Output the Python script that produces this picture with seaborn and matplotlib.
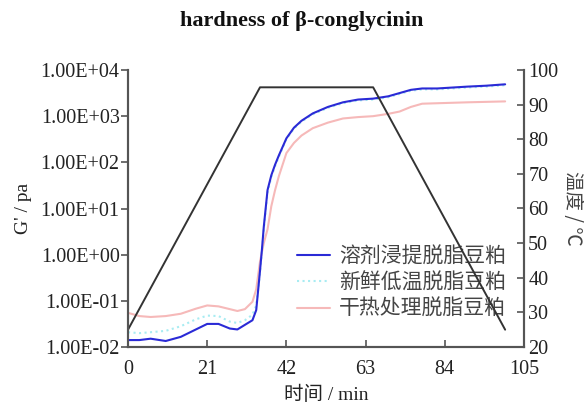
import numpy as np
import pandas as pd
import matplotlib
matplotlib.use("Agg")
import matplotlib.pyplot as plt
from matplotlib.ticker import FuncFormatter, FixedLocator, NullLocator
import seaborn as sns

# ---------------- data ----------------
time_min = [0, 3, 6, 10, 14, 18, 21, 24, 27, 29, 31, 33, 34, 35, 35.5, 36, 36.5, 37,
            38, 39, 40, 42, 44, 46, 49, 53, 57, 61, 65, 69, 72, 75, 78, 82, 86, 90, 95, 100]

# log10 of G' (Pa)
solvent_log = [-1.85, -1.85, -1.82, -1.87, -1.78, -1.62, -1.5, -1.5, -1.6, -1.62, -1.52, -1.42, -1.2,
               -0.35, 0.1, 0.6, 1.0, 1.4, 1.72, 1.95, 2.15, 2.52, 2.75, 2.9, 3.06, 3.2, 3.3, 3.36,
               3.38, 3.43, 3.5, 3.57, 3.6, 3.6, 3.62, 3.64, 3.66, 3.69]
fresh_log = [-1.68, -1.7, -1.68, -1.65, -1.55, -1.4, -1.32, -1.33, -1.45, -1.48, -1.42, -1.3, -1.1,
             -0.4, 0.05, 0.55, 0.95, 1.35, 1.68, 1.92, 2.12, 2.5, 2.73, 2.88, 3.04, 3.18, 3.28, 3.34,
             3.36, 3.41, 3.48, 3.55, 3.58, 3.58, 3.6, 3.62, 3.64, 3.67]
dryheat_log = [-1.26, -1.33, -1.35, -1.33, -1.28, -1.17, -1.1, -1.12, -1.18, -1.22, -1.18, -1.02, -0.75,
               -0.15, 0.05, 0.25, 0.4, 0.55, 1.05, 1.4, 1.7, 2.2, 2.42, 2.58, 2.74, 2.86, 2.95, 2.98,
               3.0, 3.05, 3.1, 3.2, 3.27, 3.28, 3.29, 3.3, 3.31, 3.32]

temp_time = [0, 35, 65, 100]
temp_c = [25, 95, 95, 25]

series_names = ["溶剂浸提脱脂豆粕", "新鲜低温脱脂豆粕", "干热处理脱脂豆粕"]
x_ticks = [0, 21, 42, 63, 84, 105]
y_ticks = [1e-2, 1e-1, 1e0, 1e1, 1e2, 1e3, 1e4]
t_ticks = [20, 30, 40, 50, 60, 70, 80, 90, 100]

# ---------------- style ----------------
sns.set_style("white")
plt.rcParams['font.family'] = ['Liberation Serif', 'Noto Sans CJK SC', 'DejaVu Sans']
plt.rcParams['axes.unicode_minus'] = False

df = pd.DataFrame({
    "time": time_min * 3,
    "G": [10 ** v for v in solvent_log] + [10 ** v for v in fresh_log] + [10 ** v for v in dryheat_log],
    "sample": [series_names[0]] * len(time_min) + [series_names[1]] * len(time_min)
              + [series_names[2]] * len(time_min),
})
df_t = pd.DataFrame({"time": temp_time, "temp": temp_c})

fig = plt.figure(figsize=(5.84, 4.07), dpi=100)
ax = fig.add_axes([128 / 584, 1 - 347 / 407, (524 - 128) / 584, (347 - 70) / 407])

colors = {series_names[0]: "#2a2ad6", series_names[1]: "#a8ecf2", series_names[2]: "#f6b9b9"}
styles = {series_names[0]: "-", series_names[1]: ":", series_names[2]: "-"}
zorders = {series_names[0]: 4, series_names[1]: 3, series_names[2]: 2}

for name in series_names:
    sub = df[df["sample"] == name]
    sns.lineplot(data=sub, x="time", y="G", ax=ax, color=colors[name], linestyle=styles[name],
                 linewidth=1.5, zorder=zorders[name], label=name, estimator=None, sort=False)

ax.set_yscale("log")
ax.set_xlim(0, 105)
ax.set_ylim(1e-2, 1e4)
ax.yaxis.set_major_locator(FixedLocator(y_ticks))
ax.yaxis.set_minor_locator(NullLocator())
ax.yaxis.set_major_formatter(FuncFormatter(lambda v, p: f"{v:.2E}"))
ax.set_xticks(x_ticks)

ax2 = ax.twinx()
sns.lineplot(data=df_t, x="time", y="temp", ax=ax2, color="#333333", linewidth=1.4,
             estimator=None, sort=False, legend=False)
ax2.set_ylim(20, 100)
ax2.set_yticks(t_ticks)
ax2.set_xlim(0, 105)
ax2.set_ylabel("")

spine_c = "#555555"
for a in (ax, ax2):
    a.spines["top"].set_visible(False)
    for s in ("left", "right", "bottom"):
        a.spines[s].set_color(spine_c)
        a.spines[s].set_linewidth(1.5)

ax.tick_params(axis="y", direction="out", length=5, width=1.2, color=spine_c,
               labelsize=14.5, labelcolor="#222222", pad=1, left=True)
ax.tick_params(axis="x", direction="in", length=5, width=1.2, color=spine_c,
               labelsize=14.5, labelcolor="#222222", pad=9, bottom=True)
ax2.tick_params(axis="y", direction="in", length=5, width=1.2, color=spine_c,
                labelsize=14.5, labelcolor="#222222", pad=3, right=True)

ax.set_xlabel("时间 / min", fontsize=14, color="#222222", labelpad=5)
ax.set_ylabel("G' / pa", fontsize=14, color="#222222", labelpad=6)
fig.text(572 / 584, 1 - 208 / 407, "温度 / ℃", rotation=-90, fontsize=14, color="#444444",
         ha="center", va="center", family=["Noto Sans CJK SC", "DejaVu Sans"])

fig.text(302 / 584, 1 - 21 / 407, "hardness of β-conglycinin", fontsize=16, fontweight="bold",
         ha="center", va="center", color="#111111")

leg = ax.legend(loc="lower right", bbox_to_anchor=(0.975, 0.068), frameon=False,
                fontsize=15, handlelength=1.6, handletextpad=0.4, labelspacing=0.3,
                borderaxespad=0.0)
for t in leg.get_texts():
    t.set_color("#444444")
for h in leg.get_lines():
    h.set_linewidth(1.5)
leg.set_zorder(10)

fig.savefig("out.png", dpi=100)
